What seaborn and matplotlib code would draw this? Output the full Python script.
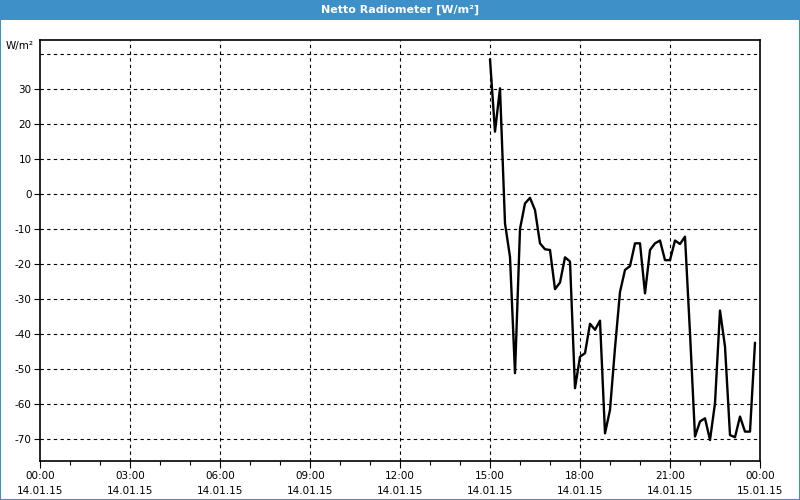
import matplotlib
matplotlib.use("Agg")
import matplotlib.pyplot as plt
import seaborn as sns
import pandas as pd
import numpy as np
from matplotlib.patches import Rectangle
from matplotlib.ticker import MultipleLocator

# ---- data ----
times = ["15:00", "15:10", "15:20", "15:30", "15:40", "15:50",
         "16:00", "16:10", "16:20", "16:30", "16:40", "16:50",
         "17:00", "17:10", "17:20", "17:30", "17:40", "17:50",
         "18:00", "18:10", "18:20", "18:30", "18:40", "18:50",
         "19:00", "19:10", "19:20", "19:30", "19:40", "19:50",
         "20:00", "20:10", "20:20", "20:30", "20:40", "20:50",
         "21:00", "21:10", "21:20", "21:30", "21:40", "21:50",
         "22:00", "22:10", "22:20", "22:30", "22:40", "22:50",
         "23:00", "23:10", "23:20", "23:30", "23:40", "23:50"]
values = [38.5, 17.8, 30.2, -8.4, -18.0, -51.2,
          -10.0, -2.7, -1.1, -4.6, -14.1, -15.8,
          -16.0, -27.2, -25.3, -18.1, -19.3, -55.5,
          -46.5, -45.5, -37.1, -38.8, -36.2, -68.4,
          -61.7, -44.0, -28.0, -21.7, -20.6, -14.1,
          -14.1, -28.4, -16.0, -14.1, -13.3, -18.9,
          -18.9, -13.3, -14.3, -12.2, -39.8, -69.3,
          -65.0, -64.1, -70.3, -59.8, -33.3, -43.6,
          -68.9, -69.5, -63.6, -67.9, -67.9, -42.5]
x_tick_hours = [0, 3, 6, 9, 12, 15, 18, 21, 24]
x_tick_labels = ["00:00\n14.01.15", "03:00\n14.01.15", "06:00\n14.01.15",
                 "09:00\n14.01.15", "12:00\n14.01.15", "15:00\n14.01.15",
                 "18:00\n14.01.15", "21:00\n14.01.15", "00:00\n15.01.15"]
y_ticks = [-70, -60, -50, -40, -30, -20, -10, 0, 10, 20, 30]
title = "Netto Radiometer [W/m²]"
unit = "W/m²"

hours = [int(t[:2]) + int(t[3:]) / 60 for t in times]
df = pd.DataFrame({"hour": hours, "value": values})

sns.set_theme(style="white")
plt.rcParams["font.family"] = ["DejaVu Sans"]

fig = plt.figure(figsize=(8, 5), dpi=100)
fig.patch.set_facecolor("white")
blue = "#3d90c8"

# title bar and border
fig.patches.append(Rectangle((0, 0.96), 1, 0.04, transform=fig.transFigure,
                             facecolor=blue, edgecolor="none", zorder=0))
fig.patches.append(Rectangle((0.0006, 0.001), 0.9988, 0.998, transform=fig.transFigure,
                             facecolor="none", edgecolor=blue, linewidth=1.5, zorder=0))
fig.text(0.5, 0.98, title, color="white", fontsize=8, fontweight="bold",
         ha="center", va="center")

ax = fig.add_axes([0.05, 0.078, 0.90, 0.842])
ax.set_facecolor("white")

sns.lineplot(data=df, x="hour", y="value", ax=ax, color="black", linewidth=1.7)

ax.set_xlim(0, 24)
ax.set_ylim(-76.3, 44)

# grid
for h in x_tick_hours[1:-1]:
    ax.axvline(h, color="black", linestyle=(0, (3, 3)), linewidth=0.8, zorder=0)
for yv in y_ticks + [40]:
    ax.axhline(yv, color="black", linestyle=(0, (3, 3)), linewidth=0.8, zorder=0)

ax.set_xticks(x_tick_hours)
ax.set_xticklabels(x_tick_labels, fontsize=7.5, linespacing=1.6, color="black")
ax.xaxis.set_minor_locator(MultipleLocator(1))
ax.set_yticks(y_ticks)
ax.set_yticklabels([str(v) for v in y_ticks], fontsize=7.5, color="black")
ax.tick_params(axis="x", which="major", direction="out", length=5, width=0.8,
               color="black", pad=2, bottom=True)
ax.tick_params(axis="x", which="minor", direction="out", length=3, width=0.8,
               color="black", bottom=True)
ax.tick_params(axis="y", direction="out", length=4, width=0.8, color="black",
               pad=2, left=True)
ax.set_xlabel("")
ax.set_ylabel("")
for s in ax.spines.values():
    s.set_visible(True)
    s.set_color("black")
    s.set_linewidth(1.2)

fig.text(20 / 800, 1 - 46 / 500, unit, fontsize=7.5, ha="center", va="center",
         color="black")

fig.savefig("out.png", dpi=100)
